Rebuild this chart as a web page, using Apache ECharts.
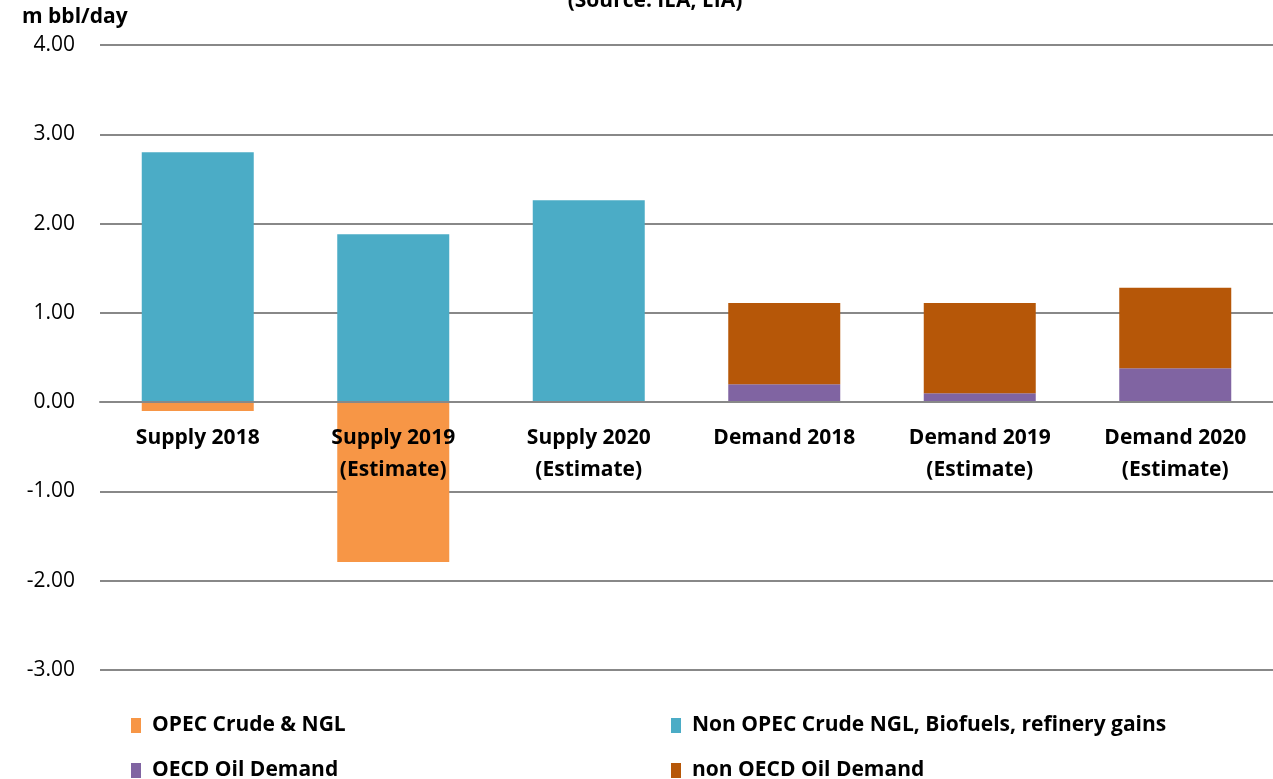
<!DOCTYPE html>
<html>
<head>
<meta charset="utf-8">
<script src="https://cdn.jsdelivr.net/npm/echarts@6/dist/echarts.min.js"></script>
<style>
  html, body { margin: 0; padding: 0; background: #fff; }
  #main { width: 1273px; height: 779px; }
</style>
</head>
<body>
<div id="main"></div>
<script>
    var categories = ['Supply 2018', 'Supply 2019\n(Estimate)', 'Supply 2020\n(Estimate)',
        'Demand 2018', 'Demand 2019\n(Estimate)', 'Demand 2020\n(Estimate)'];
    var opecCrude = [-0.10, -1.79, 0, 0, 0, 0];
    var nonOpec = [2.80, 1.88, 2.26, 0, 0, 0];
    var oecdDemand = [0, 0, 0, 0.20, 0.10, 0.38];
    var nonOecdDemand = [0, 0, 0, 0.91, 1.01, 0.90];
    var yTicks = [-3, -2, -1, 0, 1, 2, 3, 4];

    var colors = ['#F79646', '#4BACC6', '#8064A2', '#B65708'];
    var names = ['OPEC Crude & NGL', 'Non OPEC Crude NGL, Biofuels, refinery gains',
        'OECD Oil Demand', 'non OECD Oil Demand'];
    var font = '"Open Sans", "Noto Sans", sans-serif';

    var gridTop = 45, gridHeight = 625;
    // distance of the zero line above the bottom of the grid
    var zeroFromBottom = gridHeight * (0 - yTicks[0]) / (yTicks[yTicks.length - 1] - yTicks[0]);

    var myChart = echarts.init(document.getElementById('main'));

    // one legend per item so they can sit in a 2x2 layout
    var legendPos = [[126, 710], [666, 710], [126, 755], [666, 755]];
    var legends = names.map(function (n, i) {
        return {
            data: [n],
            left: legendPos[i][0],
            top: legendPos[i][1],
            itemWidth: 10,
            itemHeight: 15,
            icon: 'rect',
            selectedMode: false,
            textStyle: {fontFamily: font, fontWeight: 'bold', fontSize: 21, color: '#000',
                padding: [0, 0, 0, 6]}
        };
    });

    function bar(i, data) {
        return {
            name: names[i],
            type: 'bar',
            stack: 'all',
            barWidth: 112,
            itemStyle: {color: colors[i]},
            data: data
        };
    }

    var option = {
        animation: false,
        textStyle: {fontFamily: font},
        legend: legends,
        grid: {left: 100, top: gridTop, width: 1182, height: gridHeight, containLabel: false},
        graphic: [
            {type: 'text', x: 655, y: -9,
                style: {text: '(Source: IEA, EIA)', font: 'bold 21px ' + font, fill: '#000', align: 'center'}},
            {type: 'text', left: 22, top: 7,
                style: {text: 'm bbl/day', font: 'bold 21px ' + font, fill: '#000'}}
        ],
        xAxis: {
            type: 'category',
            data: categories,
            offset: -zeroFromBottom,
            axisTick: {show: false},
            axisLine: {show: true, onZero: false, lineStyle: {color: '#888', width: 2}},
            z: 10,
            axisLabel: {
                interval: 0,
                fontFamily: font,
                fontWeight: 'bold',
                fontSize: 21,
                color: '#000',
                lineHeight: 32,
                margin: 20
            }
        },
        yAxis: {
            type: 'value',
            min: yTicks[0],
            max: yTicks[yTicks.length - 1],
            interval: 1,
            axisLine: {show: false},
            axisTick: {show: false},
            axisLabel: {
                fontFamily: font,
                fontSize: 21,
                color: '#000',
                margin: 25,
                formatter: function (v) { return v.toFixed(2); }
            },
            splitLine: {lineStyle: {color: '#888', width: 2}}
        },
        series: [
            bar(0, opecCrude),
            bar(1, nonOpec),
            bar(2, oecdDemand),
            bar(3, nonOecdDemand)
        ]
    };
    myChart.setOption(option);
</script>
</body>
</html>
